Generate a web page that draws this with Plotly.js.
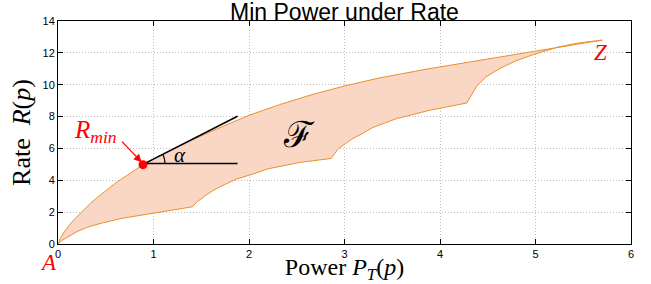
<!DOCTYPE html>
<html>
<head>
<meta charset="utf-8">
<script src="https://cdn.plot.ly/plotly-3.0.1.min.js"></script>
<style>html,body{margin:0;padding:0;background:#fff;}#chart{width:651px;height:284px;}</style>
</head>
<body>
<div id="chart"></div>
<script>
// Upper boundary of the feasible region F (Power P_T, Rate R)
const upperX = [0, 0.03, 0.07, 0.12, 0.18, 0.25, 0.33, 0.42, 0.52, 0.62, 0.72, 0.81, 0.89, 1.0, 1.2, 1.4, 1.6, 1.8, 2.0, 2.32, 2.66, 3.0, 3.36, 3.88, 4.4, 5.0, 5.4, 5.7];
const upperY = [0, 0.42, 0.8, 1.2, 1.6, 2.03, 2.5, 2.97, 3.45, 3.9, 4.3, 4.66, 4.97, 5.33, 5.94, 6.52, 7.06, 7.58, 8.08, 8.75, 9.38, 9.92, 10.42, 11.0, 11.52, 12.1, 12.48, 12.8];
// Lower boundary of the feasible region F
const lowerX = [0, 0.04, 0.1, 0.2, 0.31, 0.45, 0.66, 0.85, 1.01, 1.2, 1.41, 1.45, 1.53, 1.62, 1.71, 1.87, 2.06, 2.2, 2.53, 2.86, 2.9, 2.94, 3.08, 3.19, 3.29, 3.54, 3.88, 4.28, 4.32, 4.39, 4.48, 4.62, 4.79, 5.0, 5.24, 5.45, 5.7];
const lowerY = [0, 0.22, 0.45, 0.78, 1.06, 1.3, 1.6, 1.81, 1.96, 2.14, 2.34, 2.62, 2.98, 3.35, 3.63, 4.08, 4.43, 4.72, 5.12, 5.37, 5.7, 6.0, 6.6, 6.94, 7.3, 7.86, 8.38, 8.85, 9.27, 9.96, 10.48, 11.0, 11.49, 11.94, 12.37, 12.62, 12.8];
// R_min point and the angle construction
const rminX = [0.89];
const rminY = [4.98];
const tangentX = [0.89, 1.88];
const tangentY = [5.0, 8.02];
const baseX = [0.89, 1.88];
const baseY = [5.05, 5.05];
const arcX = [1.12, 1.115, 1.096];
const arcY = [5.03, 5.33, 5.63];
// Tick values
const xTicks = [0, 1, 2, 3, 4, 5, 6];
const yTicks = [0, 2, 4, 6, 8, 10, 12, 14];

const polyX = upperX.concat(lowerX.slice().reverse());
const polyY = upperY.concat(lowerY.slice().reverse());

const traces = [
  {x: polyX, y: polyY, type: 'scatter', mode: 'lines', fill: 'toself',
   fillcolor: '#F9D7C4', line: {color: '#E8912E', width: 1}, hoverinfo: 'skip', showlegend: false},
  {x: tangentX, y: tangentY, type: 'scatter', mode: 'lines', line: {color: '#000', width: 1.6}, showlegend: false},
  {x: baseX, y: baseY, type: 'scatter', mode: 'lines', line: {color: '#000', width: 1.6}, showlegend: false},
  {x: arcX, y: arcY, type: 'scatter', mode: 'lines', line: {color: '#000', width: 1.2, shape: 'spline'}, showlegend: false},
  {x: rminX, y: rminY, type: 'scatter', mode: 'markers', marker: {color: '#FF0000', size: 9}, showlegend: false}
];

const serif = 'Liberation Serif, Times New Roman, serif';
const sans = 'Liberation Sans, Arial, sans-serif';

const axisCommon = {
  showline: true, linecolor: '#000', linewidth: 1, mirror: 'ticks',
  ticks: 'inside', ticklen: 5, tickcolor: '#000', tickwidth: 1,
  showgrid: true, gridcolor: '#bdbdbd', griddash: '1px,2px', gridwidth: 1,
  zeroline: false, tickfont: {family: sans, size: 11, color: '#000'}, fixedrange: true
};

const layout = {
  width: 651, height: 284,
  margin: {l: 58, r: 20, t: 21, b: 40, pad: 0},
  paper_bgcolor: '#fff', plot_bgcolor: '#fff',
  title: {text: 'Min Power under Rate', font: {family: sans, size: 23, color: '#000'},
          xref: 'paper', x: 0.5, xanchor: 'center', yref: 'paper', y: 1, yanchor: 'bottom', pad: {b: 1}},
  xaxis: Object.assign({}, axisCommon, {range: [0, 6], tickvals: xTicks, ticktext: xTicks.map(String),
    title: {text: 'Power\u00A0<i>P<sub>T</sub></i>(<i>p</i>)', font: {family: serif, size: 24, color: '#000'}, standoff: 0}}),
  yaxis: Object.assign({}, axisCommon, {range: [0, 14], tickvals: yTicks, ticktext: yTicks.map(String),
    title: {text: 'Rate\u00A0\u00A0<i>R</i>(<i>p</i>)', font: {family: serif, size: 26, color: '#000'}, standoff: 4}}),
  annotations: [
    {x: 0, y: 0, xref: 'paper', yref: 'paper', xshift: -10, yshift: -18, xanchor: 'center', yanchor: 'middle',
     text: '<i>A</i>', showarrow: false, font: {family: serif, size: 23, color: '#FF0000'}},
    {x: 5.68, y: 12.03, xref: 'x', yref: 'y', text: '<i>Z</i>', showarrow: false,
     font: {family: serif, size: 23, color: '#FF0000'}},
    {x: 0.39, y: 7.05, xref: 'x', yref: 'y', text: '<i>R<sub>min</sub></i>', showarrow: false,
     font: {family: serif, size: 25, color: '#FF0000'}},
    {x: 0.875, y: 5.14, xref: 'x', yref: 'y', text: '', showarrow: true, ax: -21, ay: -22,
     arrowcolor: '#FF0000', arrowwidth: 1.3, arrowhead: 2, arrowsize: 1.2},
    {x: 1.28, y: 5.6, xref: 'x', yref: 'y', text: '<i>α</i>', showarrow: false,
     font: {family: serif, size: 21, color: '#000'}},
    {x: 2.52, y: 6.9, xref: 'x', yref: 'y', text: 'ℱ', showarrow: false,
     font: {family: 'DejaVu Serif, serif', size: 36, color: '#000'}}
  ]
};

Plotly.newPlot('chart', traces, layout, {staticPlot: true, displayModeBar: false});
</script>
</body>
</html>
